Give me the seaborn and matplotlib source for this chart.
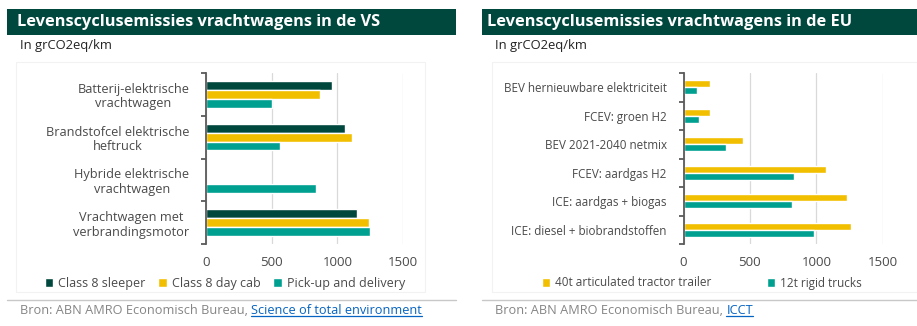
import numpy as np
import pandas as pd
import matplotlib
matplotlib.use("Agg")
import matplotlib.pyplot as plt
import seaborn as sns
from matplotlib.patches import Rectangle
from matplotlib.lines import Line2D
from matplotlib.ticker import FixedLocator

# ---- data: United States ----
us_categories = [
    "Batterij-elektrische\nvrachtwagen",
    "Brandstofcel elektrische\nheftruck",
    "Hybride elektrische\nvrachtwagen",
    "Vrachtwagen met\nverbrandingsmotor",
]
us_series = ["Class 8 sleeper", "Class 8 day cab", "Pick-up and delivery"]
us_sleeper = [960, 1055, np.nan, 1150]
us_daycab = [870, 1115, np.nan, 1240]
us_pickup = [500, 560, 840, 1245]

# ---- data: European Union ----
eu_categories = [
    "BEV hernieuwbare elektriciteit",
    "FCEV: groen H2",
    "BEV 2021-2040 netmix",
    "FCEV: aardgas H2",
    "ICE: aardgas + biogas",
    "ICE: diesel + biobrandstoffen",
]
eu_series = ["40t articulated tractor trailer", "12t rigid trucks"]
eu_tractor = [200, 200, 450, 1075, 1230, 1260]
eu_rigid = [100, 120, 320, 835, 815, 980]

x_ticks = [0, 500, 1000, 1500]

DARK = "#00473E"
YELLOW = "#F2BF00"
TEAL = "#00A091"
LABEL = "#4a4a4a"
GRID = "#d9d9d9"

us_df = pd.DataFrame({
    "category": us_categories * 3,
    "series": [s for s in us_series for _ in us_categories],
    "value": us_sleeper + us_daycab + us_pickup,
})
eu_df = pd.DataFrame({
    "category": eu_categories * 2,
    "series": [s for s in eu_series for _ in eu_categories],
    "value": eu_tractor + eu_rigid,
})

sns.set_theme(style="white")
plt.rcParams["font.family"] = ["Open Sans", "DejaVu Sans"]

W, H = 917, 326
fig = plt.figure(figsize=(W / 100, H / 100), dpi=100)


def fx(px):
    return px / W


def fy(py):
    return 1 - py / H


def panel_frame(x0, x1, y0, y1):
    fig.patches.append(Rectangle((fx(x0), fy(y1)), fx(x1 - x0), (y1 - y0) / H,
                                 transform=fig.transFigure, fill=False,
                                 edgecolor="#f2f2f2", linewidth=0.8, zorder=0))


def header(x0, x1, title, inset):
    fig.patches.append(Rectangle((fx(x0), fy(35)), fx(x1 - x0), 26 / H,
                                 transform=fig.transFigure, facecolor=DARK,
                                 edgecolor="none", zorder=1))
    fig.text(fx(x0 + inset), fy(22.5), title, color="white", fontsize=11.8,
             fontweight="bold", va="center", ha="left", zorder=2)


def style_axis(ax, n, ylabel_size):
    ax.set_xlim(0, 1500)
    ax.set_ylim(n - 0.5, -0.5)
    ax.xaxis.set_major_locator(FixedLocator(x_ticks))
    ax.set_xticklabels([str(t) for t in x_ticks])
    ax.grid(axis="x", color=GRID, linewidth=0.9)
    ax.grid(axis="y", visible=False)
    ax.set_axisbelow(True)
    for s in ["top", "right", "bottom"]:
        ax.spines[s].set_visible(False)
    ax.spines["left"].set_color("#5a5a5a")
    ax.spines["left"].set_linewidth(1.3)
    ax.tick_params(axis="x", length=0, pad=9, labelsize=9.5, labelcolor=LABEL)
    ax.tick_params(axis="y", which="major", left=False, length=0, pad=12,
                   labelsize=ylabel_size, labelcolor=LABEL)
    ax.yaxis.set_minor_locator(FixedLocator(np.arange(-0.5, n, 1.0)))
    ax.tick_params(axis="y", which="minor", left=True, length=3.5, width=1.3,
                   color="#5a5a5a", direction="out")
    ax.set_xlabel("")
    ax.set_ylabel("")
    if ax.get_legend() is not None:
        ax.get_legend().remove()


def source(x, link):
    t1 = fig.text(fx(x), fy(311), "Bron: ABN AMRO Economisch Bureau, ",
                  color="#858585", fontsize=9.2, va="center", ha="left")
    fig.canvas.draw()
    r = fig.canvas.get_renderer()
    bb = t1.get_window_extent(r)
    t2 = fig.text(bb.x1 / W, fy(311), link, color="#0563C1", fontsize=9.2,
                  va="center", ha="left")
    fig.canvas.draw()
    b2 = t2.get_window_extent(r)
    fig.add_artist(Line2D([b2.x0 / W, b2.x1 / W], [(b2.y0 + 1.5) / H] * 2,
                          color="#0563C1", linewidth=0.9,
                          transform=fig.transFigure))


# ---- left panel ----
panel_frame(16, 425, 62, 292)
header(7, 456, "Levenscyclusemissies vrachtwagens in de VS", 10)
fig.text(fx(20), fy(46), "In grCO2eq/km", fontsize=9.4, color="#222222",
         va="center", ha="left")
ax1 = fig.add_axes([fx(206), fy(244), fx(403 - 206), 171 / H])
sns.barplot(data=us_df, y="category", x="value", hue="series", orient="h",
            palette=[DARK, YELLOW, TEAL], width=0.62, saturation=1,
            ax=ax1, legend=False)
style_axis(ax1, len(us_categories), 9.2)
for lab in ax1.get_yticklabels():
    lab.set_multialignment("center")
    lab.set_linespacing(1.15)
h1 = [Rectangle((0, 0), 1, 1, facecolor=c) for c in [DARK, YELLOW, TEAL]]
fig.legend(h1, us_series, loc="center", bbox_to_anchor=(fx(225), fy(283)),
           ncol=3, frameon=False, fontsize=9, handlelength=0.7,
           handleheight=0.7, handletextpad=0.4, columnspacing=1.0,
           labelcolor=LABEL)
fig.add_artist(Line2D([fx(7), fx(456)], [fy(299.5)] * 2, color="#c8c8c8",
                      linewidth=1, transform=fig.transFigure))

# ---- right panel ----
panel_frame(492, 917, 62, 292)
header(482, 917, "Levenscyclusemissies vrachtwagens in de EU", 5)
fig.text(fx(495), fy(46), "In grCO2eq/km", fontsize=9.4, color="#222222",
         va="center", ha="left")
ax2 = fig.add_axes([fx(683.5), fy(244), fx(882.7 - 683.5), 171 / H])
sns.barplot(data=eu_df, y="category", x="value", hue="series", orient="h",
            palette=[YELLOW, TEAL], width=0.5, saturation=1,
            ax=ax2, legend=False)
style_axis(ax2, len(eu_categories), 8.4)
h2 = [Rectangle((0, 0), 1, 1, facecolor=c) for c in [YELLOW, TEAL]]
fig.legend(h2, eu_series, loc="center", bbox_to_anchor=(fx(702), fy(283)),
           ncol=2, frameon=False, fontsize=8.5, handlelength=0.7,
           handleheight=0.7, handletextpad=0.4, columnspacing=4.7,
           labelcolor=LABEL)
fig.add_artist(Line2D([fx(482), fx(917)], [fy(299.5)] * 2, color="#c8c8c8",
                      linewidth=1, transform=fig.transFigure))

source(20, "Science of total environment")
source(495, "ICCT")

fig.savefig("out.png", dpi=100)
